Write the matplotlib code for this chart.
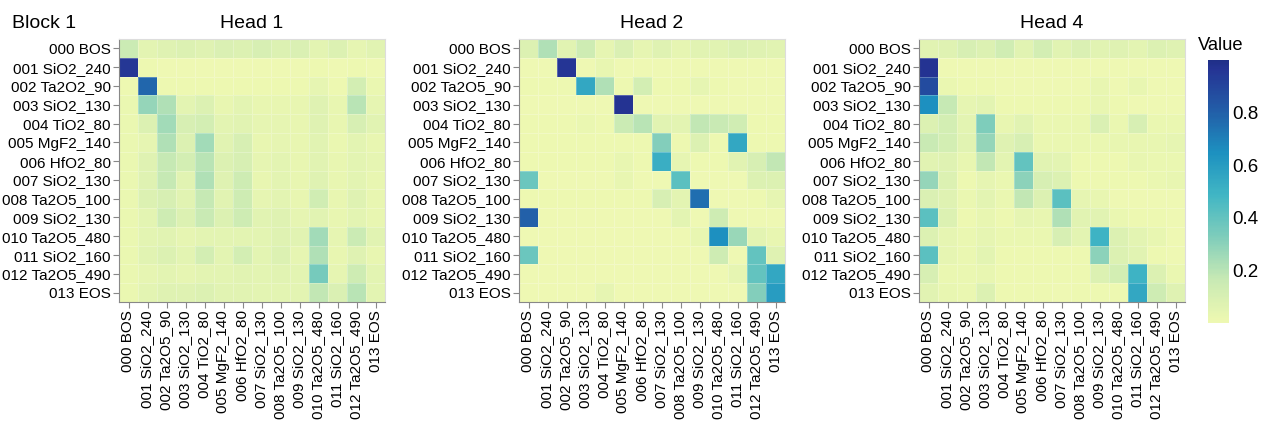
import numpy as np
import matplotlib.pyplot as plt
from matplotlib.colors import LinearSegmentedColormap, Normalize

plt.rcParams['font.family'] = ['Liberation Sans', 'DejaVu Sans']

x_labels = ['000 BOS', '001 SiO2_240', '002 Ta2O5_90', '003 SiO2_130', '004 TiO2_80',
            '005 MgF2_140', '006 HfO2_80', '007 SiO2_130', '008 Ta2O5_100', '009 SiO2_130',
            '010 Ta2O5_480', '011 SiO2_160', '012 Ta2O5_490', '013 EOS']
y_labels_head1 = ['000 BOS', '001 SiO2_240', '002 Ta2O2_90', '003 SiO2_130', '004 TiO2_80',
                  '005 MgF2_140', '006 HfO2_80', '007 SiO2_130', '008 Ta2O5_100', '009 SiO2_130',
                  '010 Ta2O5_480', '011 SiO2_160', '012 Ta2O5_490', '013 EOS']
y_labels = x_labels

head_titles = ['Head 1', 'Head 2', 'Head 4']

# attention weights, rows = query token, cols = key token
head1 = np.array([
    [0.15, 0.05, 0.07, 0.08, 0.07, 0.09, 0.08, 0.10, 0.08, 0.09, 0.05, 0.08, 0.04, 0.06],
    [0.95, 0.01, 0.00, 0.00, 0.00, 0.00, 0.00, 0.00, 0.00, 0.00, 0.01, 0.00, 0.01, 0.00],
    [0.01, 0.78, 0.01, 0.01, 0.01, 0.01, 0.01, 0.01, 0.01, 0.01, 0.04, 0.01, 0.12, 0.02],
    [0.02, 0.28, 0.22, 0.05, 0.08, 0.03, 0.05, 0.03, 0.03, 0.03, 0.07, 0.03, 0.20, 0.04],
    [0.02, 0.08, 0.25, 0.10, 0.12, 0.05, 0.06, 0.04, 0.04, 0.03, 0.07, 0.03, 0.10, 0.06],
    [0.02, 0.04, 0.22, 0.08, 0.25, 0.06, 0.10, 0.03, 0.04, 0.03, 0.06, 0.02, 0.05, 0.03],
    [0.02, 0.07, 0.17, 0.12, 0.20, 0.08, 0.10, 0.04, 0.05, 0.03, 0.06, 0.03, 0.05, 0.04],
    [0.02, 0.07, 0.17, 0.06, 0.22, 0.07, 0.14, 0.03, 0.05, 0.03, 0.07, 0.03, 0.05, 0.03],
    [0.02, 0.08, 0.10, 0.06, 0.17, 0.06, 0.14, 0.04, 0.05, 0.03, 0.13, 0.03, 0.07, 0.03],
    [0.02, 0.05, 0.14, 0.08, 0.16, 0.08, 0.14, 0.06, 0.07, 0.04, 0.06, 0.03, 0.05, 0.03],
    [0.02, 0.05, 0.06, 0.04, 0.05, 0.05, 0.05, 0.05, 0.07, 0.06, 0.25, 0.04, 0.15, 0.06],
    [0.02, 0.06, 0.08, 0.05, 0.12, 0.05, 0.12, 0.05, 0.08, 0.04, 0.22, 0.03, 0.07, 0.03],
    [0.02, 0.04, 0.05, 0.04, 0.05, 0.05, 0.06, 0.05, 0.06, 0.05, 0.35, 0.04, 0.14, 0.05],
    [0.02, 0.05, 0.07, 0.07, 0.08, 0.06, 0.06, 0.05, 0.05, 0.05, 0.18, 0.09, 0.20, 0.05],
])

head2 = np.array([
    [0.08, 0.22, 0.06, 0.14, 0.04, 0.09, 0.04, 0.07, 0.04, 0.06, 0.06, 0.08, 0.07, 0.06],
    [0.00, 0.00, 0.96, 0.00, 0.03, 0.00, 0.00, 0.00, 0.00, 0.00, 0.00, 0.00, 0.00, 0.00],
    [0.01, 0.01, 0.01, 0.55, 0.22, 0.01, 0.12, 0.01, 0.01, 0.04, 0.01, 0.00, 0.00, 0.00],
    [0.00, 0.00, 0.00, 0.00, 0.00, 0.97, 0.00, 0.00, 0.00, 0.00, 0.00, 0.00, 0.00, 0.00],
    [0.01, 0.01, 0.01, 0.02, 0.01, 0.15, 0.20, 0.06, 0.05, 0.18, 0.16, 0.13, 0.01, 0.01],
    [0.01, 0.01, 0.01, 0.01, 0.01, 0.01, 0.01, 0.32, 0.01, 0.08, 0.01, 0.55, 0.01, 0.01],
    [0.01, 0.01, 0.01, 0.01, 0.01, 0.03, 0.01, 0.52, 0.04, 0.01, 0.01, 0.06, 0.10, 0.18],
    [0.38, 0.00, 0.00, 0.00, 0.00, 0.03, 0.00, 0.00, 0.42, 0.00, 0.00, 0.00, 0.08, 0.08],
    [0.01, 0.01, 0.01, 0.01, 0.01, 0.01, 0.01, 0.10, 0.05, 0.75, 0.00, 0.00, 0.01, 0.04],
    [0.80, 0.00, 0.00, 0.00, 0.00, 0.00, 0.00, 0.00, 0.05, 0.00, 0.14, 0.00, 0.00, 0.00],
    [0.00, 0.00, 0.00, 0.00, 0.00, 0.00, 0.00, 0.00, 0.00, 0.03, 0.65, 0.27, 0.05, 0.03],
    [0.38, 0.00, 0.00, 0.00, 0.00, 0.00, 0.00, 0.00, 0.00, 0.00, 0.14, 0.00, 0.40, 0.07],
    [0.00, 0.00, 0.00, 0.00, 0.00, 0.00, 0.00, 0.00, 0.00, 0.00, 0.00, 0.04, 0.40, 0.55],
    [0.00, 0.00, 0.00, 0.00, 0.04, 0.00, 0.00, 0.00, 0.00, 0.00, 0.00, 0.00, 0.32, 0.60],
])

head4 = np.array([
    [0.06, 0.07, 0.10, 0.08, 0.13, 0.06, 0.12, 0.06, 0.09, 0.06, 0.07, 0.05, 0.08, 0.07],
    [0.97, 0.00, 0.00, 0.00, 0.00, 0.00, 0.00, 0.00, 0.00, 0.00, 0.00, 0.00, 0.00, 0.00],
    [0.88, 0.02, 0.01, 0.01, 0.00, 0.00, 0.00, 0.00, 0.00, 0.03, 0.00, 0.03, 0.00, 0.00],
    [0.65, 0.17, 0.04, 0.05, 0.01, 0.01, 0.01, 0.01, 0.01, 0.03, 0.01, 0.00, 0.00, 0.00],
    [0.08, 0.12, 0.05, 0.33, 0.03, 0.06, 0.02, 0.02, 0.02, 0.09, 0.02, 0.10, 0.02, 0.02],
    [0.16, 0.12, 0.06, 0.28, 0.07, 0.10, 0.02, 0.02, 0.02, 0.02, 0.03, 0.03, 0.03, 0.04],
    [0.06, 0.07, 0.03, 0.18, 0.05, 0.40, 0.06, 0.05, 0.01, 0.01, 0.01, 0.03, 0.02, 0.02],
    [0.28, 0.08, 0.01, 0.04, 0.02, 0.30, 0.10, 0.08, 0.01, 0.01, 0.01, 0.01, 0.02, 0.03],
    [0.09, 0.07, 0.02, 0.05, 0.02, 0.18, 0.08, 0.42, 0.04, 0.03, 0.00, 0.00, 0.00, 0.00],
    [0.42, 0.08, 0.01, 0.03, 0.01, 0.04, 0.03, 0.22, 0.06, 0.06, 0.02, 0.01, 0.01, 0.00],
    [0.08, 0.04, 0.02, 0.04, 0.02, 0.02, 0.02, 0.10, 0.05, 0.50, 0.08, 0.05, 0.03, 0.00],
    [0.42, 0.04, 0.02, 0.05, 0.01, 0.01, 0.01, 0.01, 0.01, 0.30, 0.08, 0.06, 0.01, 0.00],
    [0.10, 0.02, 0.02, 0.03, 0.01, 0.01, 0.01, 0.01, 0.01, 0.08, 0.12, 0.50, 0.08, 0.02],
    [0.06, 0.03, 0.02, 0.08, 0.01, 0.01, 0.01, 0.00, 0.01, 0.01, 0.01, 0.55, 0.14, 0.07],
])

heads = [head1, head2, head4]
row_labels = [y_labels_head1, y_labels, y_labels]

# trimmed YlGnBu so the low end stays pale yellow-green and the top dark navy
base = plt.get_cmap('YlGnBu')
cmap = LinearSegmentedColormap.from_list('ylgnbu_trim', base(np.linspace(0.12, 0.9, 256)))
norm = Normalize(vmin=0.0, vmax=1.0)

fig = plt.figure(figsize=(12.66, 4.28), dpi=100)
W, H = 1266, 428
lefts = [119, 519, 919]
top, bottom = 39, 302
n = len(x_labels)

for left, data, ylabs, title in zip(lefts, heads, row_labels, head_titles):
    ax = fig.add_axes([left / W, 1 - bottom / H, 266 / W, (bottom - top) / H])
    ax.pcolormesh(np.arange(n + 1), np.arange(n + 1), data, cmap=cmap, norm=norm,
                  edgecolors=(1, 1, 1, 0.25), linewidth=0.4)
    ax.set_xlim(0, n)
    ax.set_ylim(n, 0)
    ax.set_xticks(np.arange(n) + 0.5)
    ax.set_yticks(np.arange(n) + 0.5)
    ax.set_xticklabels(x_labels, rotation=90, fontsize=11)
    ax.set_yticklabels(ylabs, fontsize=11)
    ax.tick_params(length=4, width=0.8, color='#888888', pad=2)
    for side in ['left', 'bottom']:
        ax.spines[side].set_color('#888888')
        ax.spines[side].set_linewidth(0.8)
    for side in ['top', 'right']:
        ax.spines[side].set_color('#dddddd')
        ax.spines[side].set_linewidth(0.8)
    ax.set_title(title, fontsize=14, pad=8)

fig.text(12 / W, 1 - 23 / H, 'Block 1', fontsize=14, ha='left', va='center')

cax = fig.add_axes([1208 / W, 1 - 323 / H, 21 / W, 263 / H])
cb = fig.colorbar(plt.cm.ScalarMappable(norm=norm, cmap=cmap), cax=cax)
cb.outline.set_visible(False)
cb.set_ticks([0.2, 0.4, 0.6, 0.8])
cb.ax.tick_params(length=0, labelsize=13.5, pad=2)
fig.text(1221 / W, 1 - 45 / H, 'Value', fontsize=13.2, ha='center', va='center')

fig.savefig('out.png', dpi=100)
